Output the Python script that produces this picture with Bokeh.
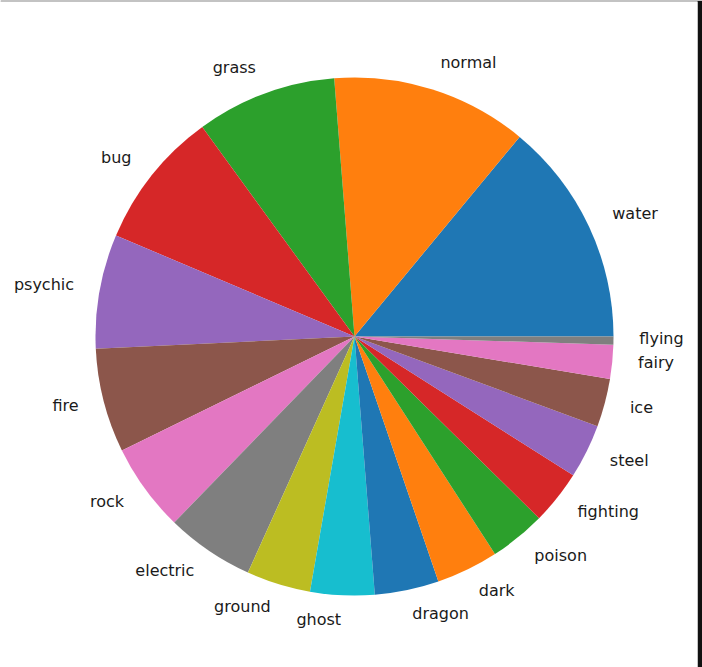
import numpy as np
from bokeh.plotting import figure
from bokeh.models import ColumnDataSource, Range1d
from bokeh.core.properties import value
from bokeh.embed import file_html
from bokeh.resources import INLINE

types = ["water", "normal", "grass", "bug", "psychic", "fire", "rock", "electric",
         "ground", "ghost", "dragon", "dark", "poison", "fighting", "steel", "ice",
         "fairy", "flying"]
counts = [112, 98, 70, 69, 57, 52, 44, 44, 32, 32, 32, 31, 28, 27, 27, 24, 17, 4]

tab10 = ["#1f77b4", "#ff7f0e", "#2ca02c", "#d62728", "#9467bd",
         "#8c564b", "#e377c2", "#7f7f7f", "#bcbd22", "#17becf"]

W, H = 697, 666
cx, cy, R = 354.0, 331.0, 259.0

vals = np.array(counts, dtype=float)
frac = vals / vals.sum()
ends = np.cumsum(frac) * 2 * np.pi
starts = ends - frac * 2 * np.pi
mids = (starts + ends) / 2
colors = [tab10[i % 10] for i in range(len(types))]

src = ColumnDataSource(dict(start=starts, end=ends, color=colors))

p = figure(width=702, height=667, output_backend="svg", toolbar_location=None,
           x_range=Range1d(0, W), y_range=Range1d(0, H),
           x_axis_type=None, y_axis_type=None,
           min_border_top=1, min_border_right=5, min_border_left=0, min_border_bottom=0,
           border_fill_color="#111111", background_fill_color="white",
           outline_line_color=None)
p.grid.visible = False

p.wedge(x=cx, y=cy, radius=R, start_angle="start", end_angle="end",
        fill_color="color", line_color=None, source=src)

lx = cx + 1.1 * R * np.cos(mids)
ly = cy + 1.1 * R * np.sin(mids)
align = ["left" if c > 0 else "right" for c in np.cos(mids)]
lsrc = ColumnDataSource(dict(x=lx, y=ly, t=types, a=align))
p.text(x="x", y="y", text="t", text_align="a", text_baseline="middle",
       y_offset=-2,
       text_font=value("DejaVu Sans"), text_font_size="16px", text_color="#1a1a1a",
       source=lsrc)

open("out.html", "w").write(file_html(p, INLINE))
